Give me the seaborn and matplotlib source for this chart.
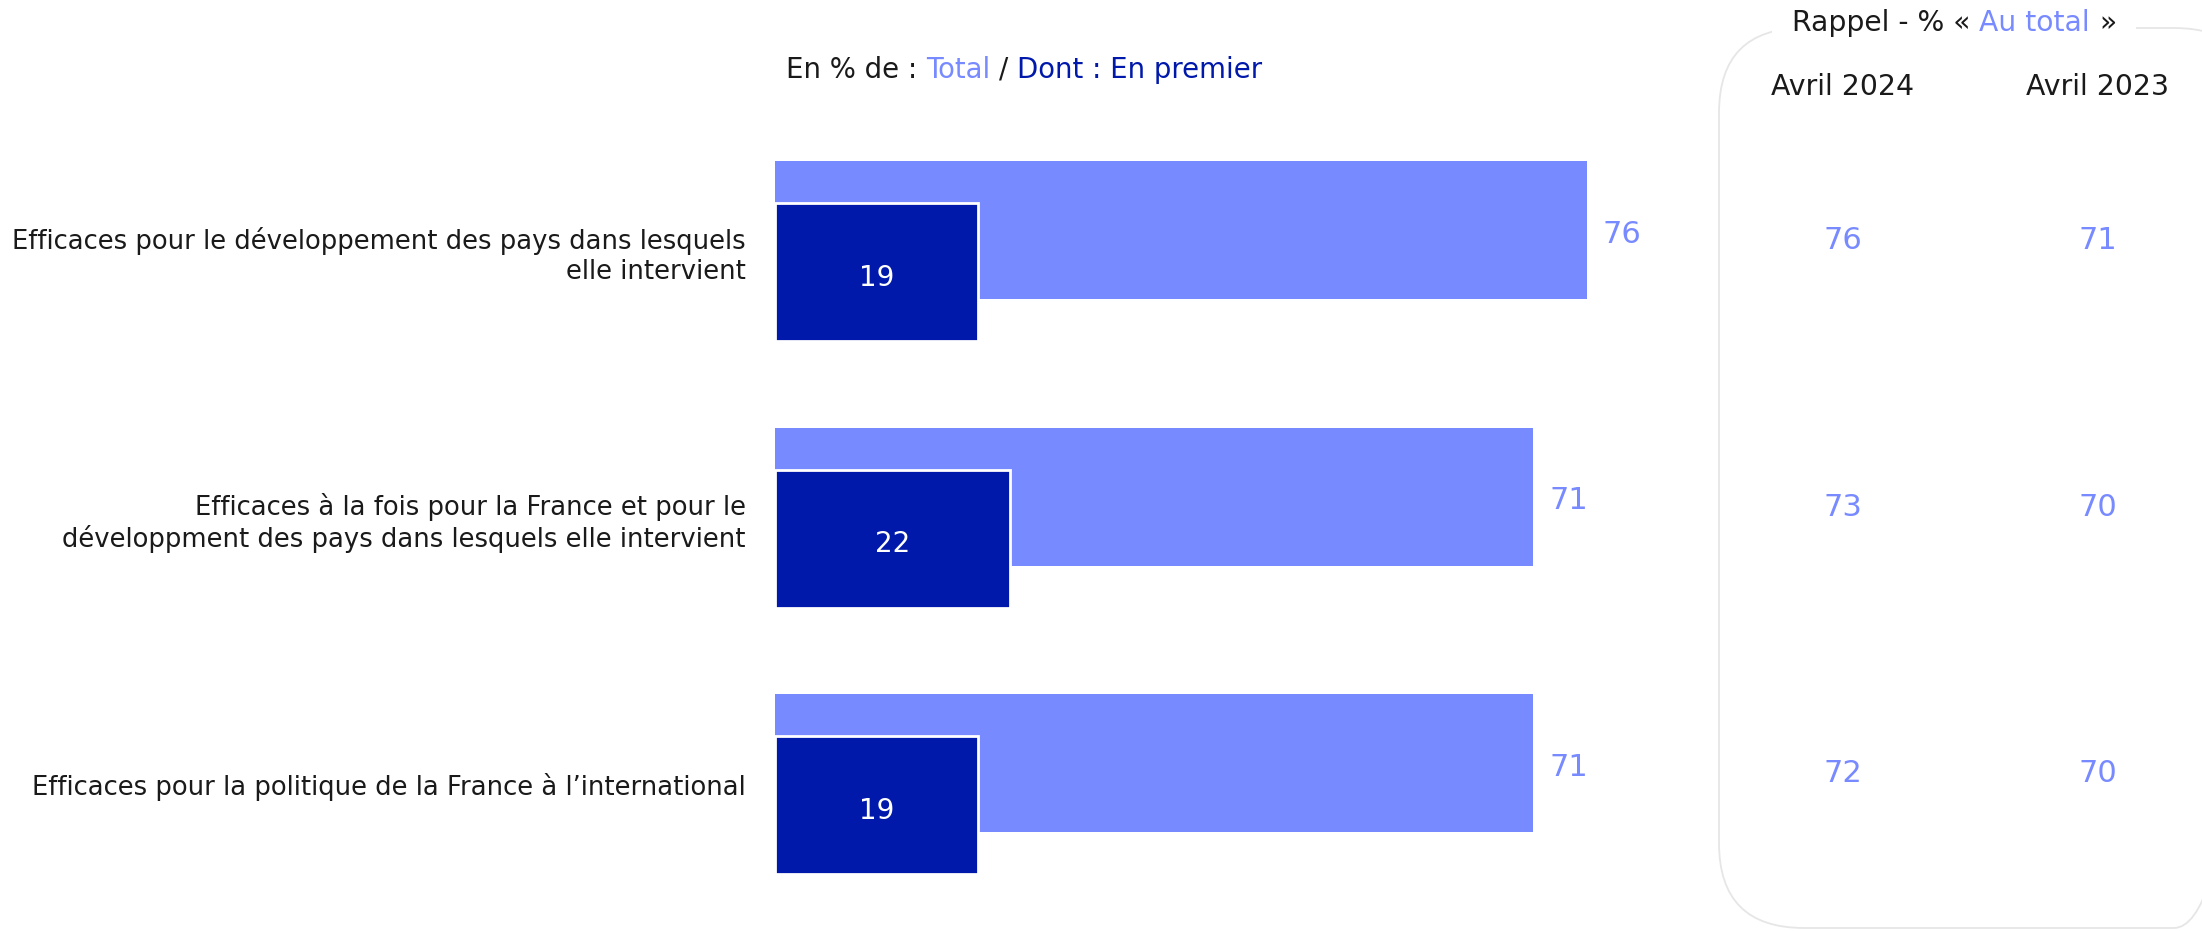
import matplotlib.pyplot as plt
import numpy as np
import pandas as pd
import seaborn as sns
from matplotlib.patches import FancyBboxPatch, Rectangle
from matplotlib.transforms import blended_transform_factory

LABELS = [
    "Efficaces pour le développement des pays dans lesquels\nelle intervient",
    "Efficaces à la fois pour la France et pour le\n"
    "développment des pays dans lesquels elle intervient",
    "Efficaces pour la politique de la France à l’international",
]
TOTAL = [76, 71, 71]
FIRST = [19, 22, 19]
RECALL_HEADERS = ["Avril 2024", "Avril 2023"]
RECALL_2024 = [76, 73, 72]
RECALL_2023 = [71, 70, 70]

LIGHT = "#788AFF"
DARK = "#0019AA"
INK = "#1A1A1A"
BOX_EDGE = "#E6E6E6"

W, H = 2202, 931
BAR_H = 0.518      # bar thickness, in row units
OFFSET = 0.158     # "en premier" bar sits lower than the total bar
FONT = ["DejaVu Sans"]


def text_width(ax, s, size):
    renderer = ax.figure.canvas.get_renderer()
    t = ax.text(0, 0, s, fontsize=size)
    w = t.get_window_extent(renderer).width
    t.remove()
    return w


def draw_runs(ax, x, y, runs, size, centered=False):
    # several colours in one line of text
    space = text_width(ax, "a a", size) - text_width(ax, "aa", size)
    widths = [text_width(ax, s, size) for s, _ in runs]
    total = sum(widths) + space * (len(runs) - 1)
    start = x - total / 2 if centered else x
    pos = start
    for (s, c), w in zip(runs, widths):
        ax.text(pos, y, s, color=c, fontsize=size, ha="left", va="center")
        pos += w + space
    return start, total


def main():
    sns.set_theme(style="white")
    plt.rcParams["font.family"] = FONT

    fig = plt.figure(figsize=(W / 100, H / 100), dpi=100)

    # pixel overlay for headers and the recall panel
    ov = fig.add_axes([0, 0, 1, 1])
    ov.set_xlim(0, W)
    ov.set_ylim(H, 0)
    ov.axis("off")

    ax = fig.add_axes([775 / W, 8 / H, 1068 / W, 826 / H])
    df = pd.DataFrame({"row": np.arange(len(TOTAL)), "total": TOTAL, "first": FIRST})
    df["row_first"] = df["row"] + OFFSET

    sns.barplot(data=df, x="total", y="row", orient="h", native_scale=True,
                width=BAR_H, color=LIGHT, saturation=1, linewidth=0, ax=ax)
    sns.barplot(data=df, x="first", y="row_first", orient="h", native_scale=True,
                width=BAR_H, color=DARK, saturation=1, edgecolor="white",
                linewidth=2, ax=ax)

    ax.set_xlim(0, 100)
    ax.set_ylim(2.6, -0.5)
    sns.despine(ax=ax, left=True, bottom=True)
    ax.set_xticks([])
    ax.set_xlabel("")
    ax.set_ylabel("")
    ax.set_yticks(df["row"] + OFFSET / 2)
    ax.set_yticklabels(LABELS, fontsize=18.6, color=INK)
    ax.tick_params(axis="y", length=0, pad=21)
    ax.patch.set_alpha(0)

    for i, (tot, first) in enumerate(zip(TOTAL, FIRST)):
        ax.text(tot + 1.5, i + 0.016, str(tot), color=LIGHT, fontsize=22,
                ha="left", va="center")
        ax.text(first / 2, i + OFFSET + 0.02, str(first), color="white",
                fontsize=20, ha="center", va="center")

    # title above the bars
    draw_runs(ov, 786, 70, [("En % de :", INK), ("Total", LIGHT), ("/", INK),
                            ("Dont : En premier", DARK)], 19.8)

    # recall panel
    box = FancyBboxPatch((1719, 28), 540, 900,
                         boxstyle="round,pad=0,rounding_size=85",
                         fc="none", ec=BOX_EDGE, lw=1.3)
    ov.add_patch(box)
    start, total = draw_runs(ov, 1954, 23, [("Rappel - % «", INK), ("Au total", LIGHT),
                                            ("»", INK)], 20.3, centered=True)
    ov.add_patch(Rectangle((start - 20, 8), total + 40, 34, fc="white",
                           ec="none", zorder=1.5))

    cols = [1843, 2098]
    for x, head in zip(cols, RECALL_HEADERS):
        ov.text(x, 87, head, color=INK, fontsize=20.4, ha="center", va="center")

    trans = blended_transform_factory(ov.transData, ax.transData)
    for x, vals in zip(cols, [RECALL_2024, RECALL_2023]):
        for i, v in enumerate(vals):
            ax.text(x, i + 0.04, str(v), color=LIGHT, fontsize=22, ha="center",
                    va="center", transform=trans, clip_on=False)

    fig.savefig("out.png", dpi=100, facecolor="white")


if __name__ == "__main__":
    main()
